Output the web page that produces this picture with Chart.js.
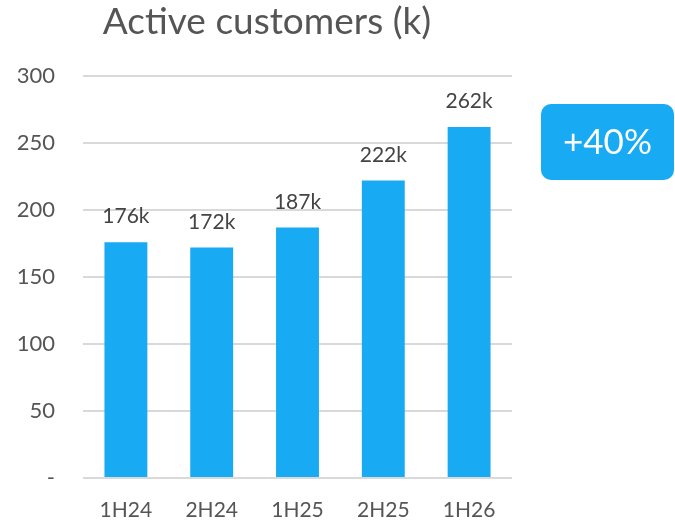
<!DOCTYPE html>
<html lang="en">
<head>
    <meta charset="UTF-8">
    <title>Active customers (k)</title>
    <style>
        html, body {
            margin: 0;
            padding: 0;
            background: #ffffff;
        }

        #wrap {
            position: relative;
            width: 675px;
            height: 522px;
        }
    </style>
</head>
<body>
    <div id="wrap">
        <canvas id="customerChart" width="675" height="522"></canvas>
    </div>

    <script src="https://cdn.jsdelivr.net/npm/chart.js"></script>
    <script>
        const periods = ['1H24', '2H24', '1H25', '2H25', '1H26'];
        const customers = [176, 172, 187, 222, 262];
        const yTicks = [0, 50, 100, 150, 200, 250, 300];
        const titleText = 'Active customers (k)';
        const growthText = '+40%';

        const blue = '#18aaf3';
        const textGrey = '#555555';
        const fontName = 'Lato, "Open Sans", sans-serif';

        // Title and growth badge
        const decorPlugin = {
            id: 'decor',
            afterDraw(chart) {
                const c = chart.ctx;
                c.save();
                c.fillStyle = textGrey;
                c.font = '37px ' + fontName;
                c.textAlign = 'center';
                c.textBaseline = 'alphabetic';
                c.fillText(titleText, 267, 34);

                // badge
                const x = 541, y = 104, w = 133, h = 76, r = 10;
                c.fillStyle = blue;
                c.beginPath();
                c.roundRect(x, y, w, h, r);
                c.fill();
                c.fillStyle = '#ffffff';
                c.font = '35px ' + fontName;
                c.textBaseline = 'middle';
                c.fillText(growthText, x + w / 2, y + h / 2 + 1);
                c.restore();
            }
        };

        // Value labels above each bar
        const valueLabels = {
            id: 'valueLabels',
            afterDatasetsDraw(chart) {
                const c = chart.ctx;
                const meta = chart.getDatasetMeta(0);
                c.save();
                c.fillStyle = '#444444';
                c.font = '21px ' + fontName;
                c.textAlign = 'center';
                c.textBaseline = 'bottom';
                meta.data.forEach((bar, i) => {
                    c.fillText(customers[i] + 'k', bar.x, bar.y - 15);
                });
                c.restore();
            }
        };

        const ctx = document.getElementById('customerChart').getContext('2d');

        new Chart(ctx, {
            type: 'bar',
            data: {
                labels: periods,
                datasets: [{
                    data: customers,
                    backgroundColor: blue,
                    borderWidth: 0,
                    barPercentage: 0.5,
                    categoryPercentage: 1.0
                }]
            },
            options: {
                responsive: false,
                animation: false,
                layout: {
                    padding: { top: 76, right: 163, left: 0, bottom: 0 }
                },
                plugins: {
                    legend: { display: false },
                    tooltip: { enabled: false }
                },
                scales: {
                    x: {
                        grid: { display: false, drawTicks: false },
                        border: { display: false },
                        ticks: {
                            color: textGrey,
                            font: { family: fontName, size: 21 },
                            padding: 20
                        },
                        afterFit(scale) {
                            scale.height = 44;
                        }
                    },
                    y: {
                        min: 0,
                        max: 300,
                        afterBuildTicks(scale) {
                            scale.ticks = yTicks.map(v => ({ value: v }));
                        },
                        grid: {
                            color: '#d9d9d9',
                            lineWidth: 2,
                            drawTicks: false
                        },
                        border: { display: false },
                        ticks: {
                            color: textGrey,
                            font: { family: fontName, size: 22 },
                            padding: 28,
                            callback: v => (v === 0 ? '-' : v)
                        },
                        afterFit(scale) {
                            scale.width = 83;
                        }
                    }
                }
            },
            plugins: [decorPlugin, valueLabels]
        });
    </script>
</body>
</html>
